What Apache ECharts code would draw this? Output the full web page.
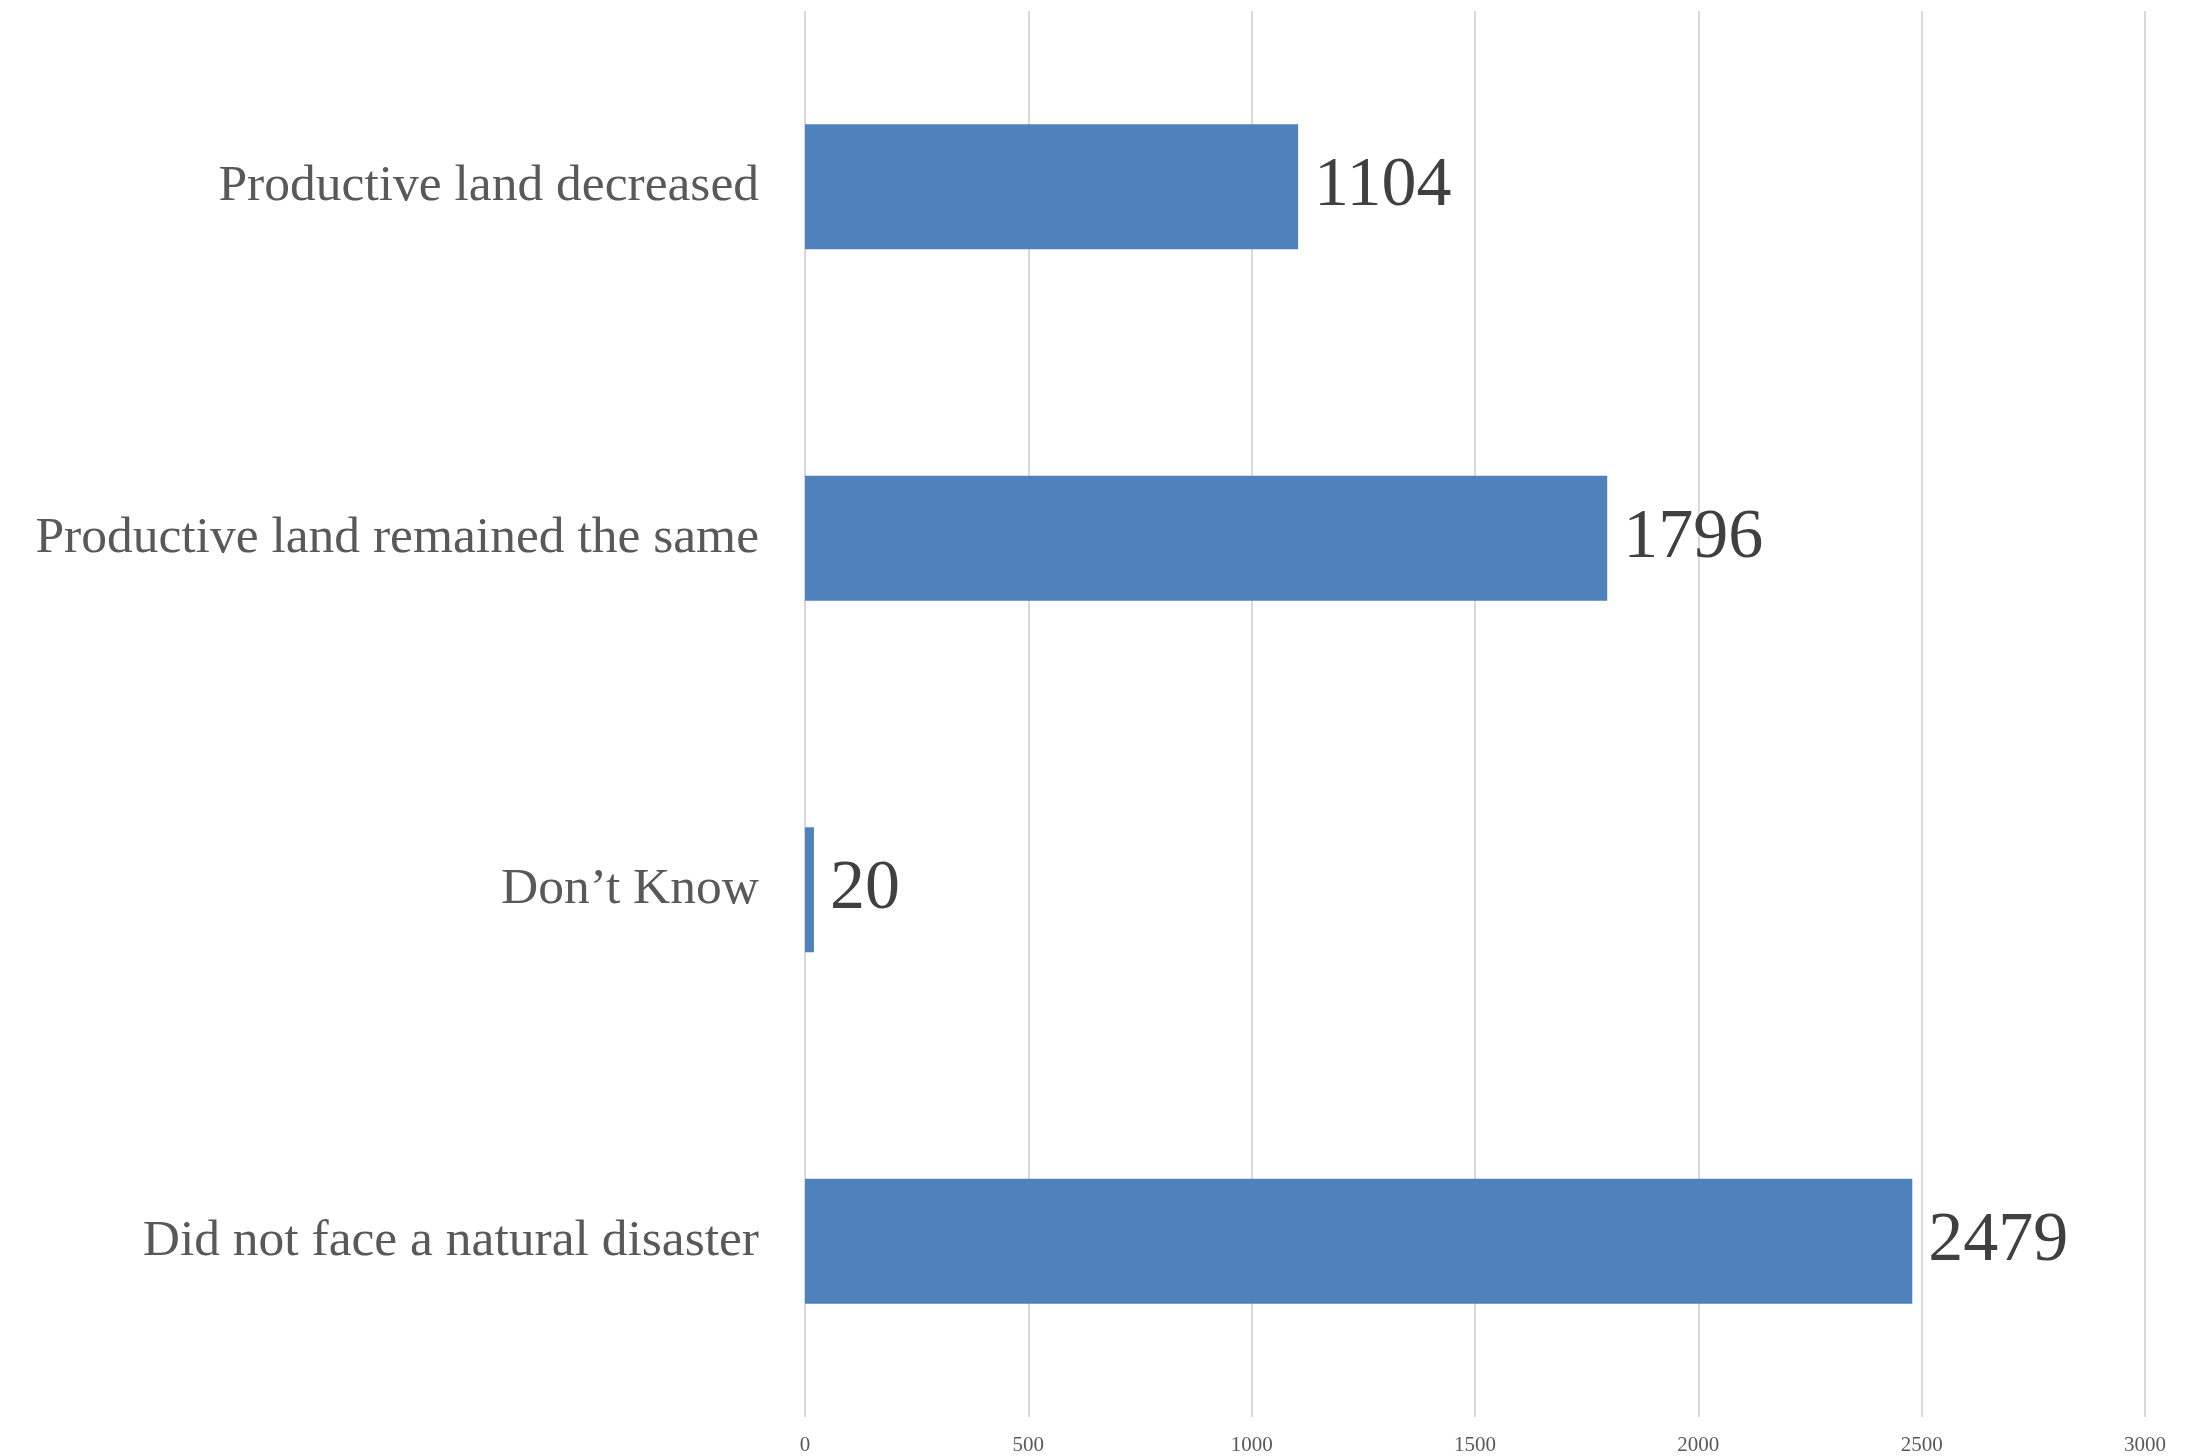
<!DOCTYPE html>
<html><head><meta charset="utf-8">
<script src="https://cdn.jsdelivr.net/npm/echarts@6/dist/echarts.min.js"></script>
<style>html,body{margin:0;padding:0;background:#fff}#c{width:2197px;height:1456px}</style>
</head><body><div id="c"></div>
<script>
const categories = ["Productive land decreased","Productive land remained the same","Don\u2019t Know","Did not face a natural disaster"];
const values = [1104, 1796, 20, 2479];
const xTicks = {min: 0, max: 3000, interval: 500};

const chart = echarts.init(document.getElementById('c'));
chart.setOption({
  animation: false,
  grid: {left: 805, right: 52, top: 11, bottom: 39, containLabel: false},
  xAxis: {
    type: 'value', min: xTicks.min, max: xTicks.max, interval: xTicks.interval,
    axisLine: {show: false}, axisTick: {show: false},
    splitLine: {show: true, lineStyle: {color: '#d9d9d9', width: 2}},
    axisLabel: {color: '#595959', fontFamily: 'Liberation Serif', fontSize: 21, margin: 18,
      formatter: v => String(v)}
  },
  yAxis: {
    type: 'category', data: categories, inverse: true,
    axisLine: {show: false}, axisTick: {show: false},
    axisLabel: {color: '#595959', fontFamily: 'Liberation Serif', fontSize: 51.5, margin: 46,
      padding: [6, 0, 0, 0]}
  },
  series: [{
    type: 'bar', data: values, barWidth: '35.5%',
    itemStyle: {color: '#4F81BD'},
    label: {show: true, position: 'right', distance: 16, color: '#404040',
      fontFamily: 'Liberation Serif', fontSize: 70, padding: [6, 0, 0, 0]}
  }]
});
</script></body></html>
